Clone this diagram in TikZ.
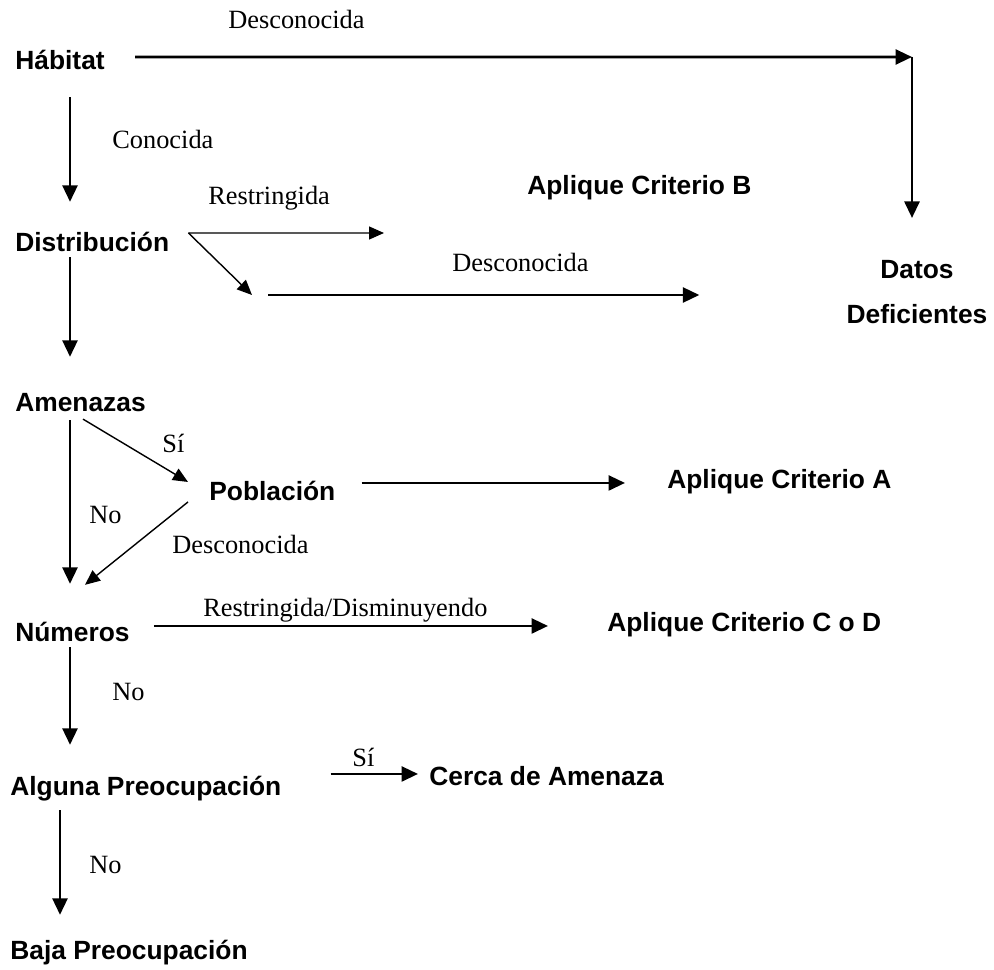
\documentclass[tikz,border=0pt]{standalone}
\usepackage{fontspec}
\setmainfont{Liberation Serif}
\setsansfont{Liberation Sans}
\usetikzlibrary{arrows.meta}

\begin{document}
\begin{tikzpicture}[x=0.2mm, y=-0.2mm]
  % Text and Arrow Styles
  \tikzstyle{statetext} = [font=\sffamily\bfseries\fontsize{15}{18}\selectfont, inner sep=0pt,
    text height=11pt, text depth=3pt, anchor=base west]
  \tikzstyle{branchtext} = [font=\fontsize{15}{18}\selectfont, inner sep=0pt, anchor=base west]
  \tikzstyle{mainflow} = [-{Triangle[length=3.3mm, width=3mm]}, line width=1.5pt]
  \tikzstyle{sideflow} = [-{Triangle[length=3mm, width=2.6mm]}, line width=0.8pt]

  \useasboundingbox (0,0) rectangle (994,970);

  % Left column: questions
  \node[statetext] (hab) at (15, 69.5) {Hábitat};
  \node[statetext] (dist) at (15, 251.5) {Distribución};
  \node[statetext] (amen) at (15, 411.5) {Amenazas};
  \node[statetext] (pobl) at (209, 500.5) {Población};
  \node[statetext] (num) at (15, 641.5) {Números};
  \node[statetext] (alg) at (10, 795.5) {Alguna Preocupación};
  \node[statetext] (baja) at (10, 959.5) {Baja Preocupación};

  % Right side: outcomes
  \node[statetext] (critB) at (527, 194.5) {Aplique Criterio B};
  \node[statetext] (critA) at (667, 488.5) {Aplique Criterio A};
  \node[statetext] (critCD) at (607, 631.5) {Aplique Criterio C o D};
  \node[statetext] (cerca) at (429, 785.5) {Cerca de Amenaza};
  \node[font=\sffamily\bfseries\fontsize{15}{18}\selectfont, inner sep=0pt, align=center]
    (datos) at (917, 292.5) {Datos\\[7.6pt]Deficientes};

  % Branch labels
  \node[branchtext] (lblDesc1) at (228, 28.7) {Desconocida};
  \node[branchtext] (lblCon) at (112, 148.7) {Conocida};
  \node[branchtext] (lblRes) at (208, 205) {Restringida};
  \node[branchtext] (lblDesc2) at (452, 271.7) {Desconocida};
  \node[branchtext] (lblSi1) at (162, 452.7) {Sí};
  \node[branchtext] (lblNo1) at (89, 523.7) {No};
  \node[branchtext] (lblDesc3) at (172, 553.7) {Desconocida};
  \node[branchtext] (lblResDis) at (203, 616) {Restringida/Disminuyendo};
  \node[branchtext] (lblNo2) at (112, 700.7) {No};
  \node[branchtext] (lblSi2) at (352, 766) {Sí};
  \node[branchtext] (lblNo3) at (89, 873.7) {No};

  % Free ends of connectors
  \coordinate (corner) at (912, 57);
  \coordinate (distB) at (384, 233);
  \coordinate (distD) at (252, 295);

  % Connectors
  \draw[mainflow, shorten <=6mm] ([yshift=1.1mm]hab.east) -- (corner);
  \draw[mainflow, shorten >=8.5mm] (corner) -- (corner |- datos.north);
  \draw[mainflow, shorten <=4.4mm, shorten >=6mm] ([xshift=11mm]hab.south west) -- ([xshift=11mm]dist.north west);
  \draw[sideflow] ([xshift=3.8mm, yshift=2.3mm]dist.east) -- (distB);
  \draw[sideflow] ([xshift=3.8mm, yshift=2.3mm]dist.east) -- (distD);
  \draw[mainflow, shorten <=3.2mm, shorten >=29.4mm] (distD) -- (distD -| datos.west);
  \draw[mainflow, shorten >=7mm] ([xshift=11mm]dist.south west) -- ([xshift=11mm]dist.south west |- amen.north);
  \draw[sideflow] ([xshift=13.6mm, yshift=-0.4mm]amen.south west) -- ([xshift=-4.2mm, yshift=2.3mm]pobl.west);
  \draw[mainflow, shorten <=0.6mm, shorten >=7.6mm] ([xshift=11mm]amen.south west) -- ([xshift=11mm]amen.south west |- num.north);
  \draw[mainflow, shorten <=5.2mm, shorten >=8.4mm] ([yshift=2.1mm]pobl.east) -- ([yshift=2.1mm]pobl.east -| critA.west);
  \draw[sideflow] ([xshift=-4.2mm, yshift=-1.7mm]pobl.west) -- ([xshift=14mm, yshift=7.4mm]num.north west);
  \draw[mainflow, shorten <=4.8mm, shorten >=11.8mm] ([yshift=1.7mm]num.east) -- ([yshift=1.7mm]num.east -| critCD.west);
  \draw[mainflow, shorten >=6.2mm] ([xshift=11mm]num.south west) -- ([xshift=11mm]num.south west |- alg.north);
  \draw[mainflow, shorten <=9.8mm, shorten >=2.2mm] ([yshift=2.9mm]alg.east) -- ([yshift=2.9mm]alg.east -| cerca.west);
  \draw[mainflow, shorten <=1.8mm, shorten >=5mm] ([xshift=10mm]alg.south west) -- ([xshift=10mm]alg.south west |- baja.north);

\end{tikzpicture}
\end{document}
